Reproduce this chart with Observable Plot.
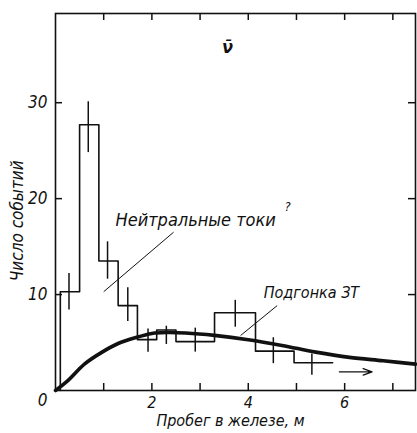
<!DOCTYPE html>
<html>
<head>
<meta charset="utf-8">
<script src="https://cdn.jsdelivr.net/npm/d3@7"></script>
<script src="https://cdn.jsdelivr.net/npm/@observablehq/plot@0.6"></script>
<style>
  html, body { margin: 0; padding: 0; background: #fff; }
</style>
</head>
<body>
<div id="chart"></div>
<script>
// Histogram bins (Пробег в железе, м) and counts
const binEdges = [0.1, 0.5, 0.9, 1.3, 1.7, 2.1, 2.5, 3.3, 4.15, 4.95, 5.75];
const binCounts = [10.3, 27.7, 13.5, 8.85, 5.3, 6.3, 5.1, 8.1, 4.1, 2.9];

// Error bars
const errX  = [0.28, 0.68, 1.08, 1.5, 1.92, 2.3, 2.9, 3.73, 4.52, 5.32];
const errLo = [8.4, 24.8, 11.6, 7.2, 4.0, 4.8, 4.0, 6.6, 2.8, 1.6];
const errHi = [12.2, 30.1, 15.5, 10.7, 6.4, 6.7, 6.5, 9.4, 5.5, 3.8];

// Fit curve (Подгонка ЗТ)
const fitX = [0, 0.25, 0.6, 0.95, 1.3, 1.65, 2.0, 2.3, 2.7, 3.3, 4.0, 4.7, 5.4, 6.1, 6.8, 7.47];
const fitY = [0, 1.0, 2.75, 3.95, 4.9, 5.5, 5.95, 6.05, 6.0, 5.75, 5.3, 4.7, 4.0, 3.45, 3.1, 2.75];

// Ticks
const xTicks = [1, 2, 3, 4, 5, 6, 7];
const xTickLabels = [2, 4, 6];
const yTicks = [10, 20, 30];

// Texts
const xLabel = "Пробег в железе, м";
const yLabel = "Число событий";
const nuLabel = "\u03BD\u0304";
const ncLabel = "Нейтральные токи";
const ncMark = "?";
const fitLabel = "Подгонка ЗТ";
const arrowX = [5.89, 6.57];
const arrowY = 1.95;

// Build tables
const stepPts = [{x: binEdges[0], y: 0}];
binCounts.forEach((c, i) => stepPts.push({x: binEdges[i], y: c}));
stepPts.push({x: binEdges[binEdges.length - 1], y: binCounts[binCounts.length - 1]});
const errs = errX.map((x, i) => ({x, lo: errLo[i], hi: errHi[i]}));
const fit = fitX.map((x, i) => ({x, y: fitY[i]}));
const leaders = [
  {x1: 2.45, y1: 16.5, x2: 1.0, y2: 10.3},
  {x1: 4.6, y1: 8.85, x2: 3.84, y2: 5.73}
];

const W = 417, H = 433, mL = 55, mR = 2, mT = 13, mB = 43;
const pw = W - mL - mR, ph = H - mT - mB;

const chart = Plot.plot({
  width: W,
  height: H,
  marginLeft: mL,
  marginRight: mR,
  marginTop: mT,
  marginBottom: mB,
  style: {fontFamily: "'Liberation Sans Narrow', 'DejaVu Sans Condensed', sans-serif", fontStyle: "italic", fontSize: "17px", color: "#111", background: "#fff"},
  x: {domain: [0, 7.47], label: null},
  y: {domain: [0, 39.3], label: null},
  marks: [
    Plot.frame({stroke: "#111", strokeWidth: 1.6}),
    // inward ticks
    Plot.tickX(xTicks, {x: d => d, insetTop: ph - 7, stroke: "#111", strokeWidth: 1.5}),
    Plot.tickX(xTicks, {x: d => d, insetBottom: ph - 7, stroke: "#111", strokeWidth: 1.5}),
    Plot.tickY(yTicks, {y: d => d, insetRight: pw - 7, stroke: "#111", strokeWidth: 1.5}),
    Plot.tickY(yTicks, {y: d => d, insetLeft: pw - 7, stroke: "#111", strokeWidth: 1.5}),
    Plot.axisX(xTickLabels, {tickSize: 0, tickPadding: 6, fontSize: 16, label: null}),
    Plot.axisY(yTicks, {tickSize: 0, tickPadding: 8, fontSize: 17, label: null}),
    Plot.text([0], {x: d => d, y: d => d, text: d => String(d), dx: -13, dy: 10, fontSize: 17}),
    // histogram
    Plot.line(stepPts, {x: "x", y: "y", curve: "step-after", stroke: "#111", strokeWidth: 1.6}),
    Plot.ruleX(errs, {x: "x", y1: "lo", y2: "hi", stroke: "#111", strokeWidth: 1.5}),
    // fit
    Plot.line(fit, {x: "x", y: "y", curve: "catmull-rom", stroke: "#111", strokeWidth: 3.6}),
    // leaders
    Plot.link(leaders, {x1: "x1", y1: "y1", x2: "x2", y2: "y2", stroke: "#111", strokeWidth: 1}),
    // arrow
    Plot.arrow([0], {x1: () => arrowX[0], x2: () => arrowX[1], y1: () => arrowY, y2: () => arrowY, stroke: "#111", strokeWidth: 1.3, headLength: 11, headAngle: 40}),
    // labels
    Plot.text([ncLabel], {x: () => 1.245, y: () => 17.8, text: d => d, textAnchor: "start", fontSize: 18}),
    Plot.text([ncMark], {x: () => 4.75, y: () => 19.1, text: d => d, textAnchor: "start", fontSize: 13}),
    Plot.text([fitLabel], {x: () => 4.32, y: () => 10.2, text: d => d, textAnchor: "start", fontSize: 16}),
    Plot.text([nuLabel], {x: () => 3.57, y: () => 35.8, text: d => d, fontSize: 18, fontWeight: "bold"}),
    Plot.text([yLabel], {y: () => 17.7, frameAnchor: "left", textAnchor: "middle", dx: -38, rotate: -90, text: d => d, fontSize: 17}),
    Plot.text([xLabel], {x: () => 3.63, frameAnchor: "bottom", textAnchor: "middle", dy: 35, text: d => d, fontSize: 16})
  ]
});
document.getElementById("chart").appendChild(chart);
</script>
</body>
</html>
